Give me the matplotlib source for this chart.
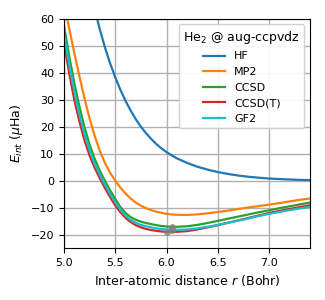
import matplotlib
matplotlib.use("Agg")
import matplotlib.pyplot as plt
import numpy as np

# inter-atomic distance grid (Bohr)
r = [5.0, 5.05, 5.1, 5.15, 5.2, 5.25, 5.3, 5.35, 5.4, 5.45, 5.5, 5.55, 5.6,
     5.65, 5.7, 5.75, 5.8, 5.85, 5.9, 5.95, 6.0, 6.05, 6.1, 6.2, 6.3, 6.4,
     6.5, 6.6, 6.7, 6.8, 6.9, 7.0, 7.1, 7.2, 7.3, 7.4]

# interaction energies (micro Hartree)
e_hf = [122, 110, 99, 89, 80, 71.5, 63.5, 56, 49.3, 43.5, 38.3, 33.7, 29.6,
        26.0, 22.8, 20.0, 17.6, 15.5, 13.6, 12.0, 10.6, 9.4, 8.3, 6.6, 5.2,
        4.1, 3.2, 2.5, 1.9, 1.45, 1.1, 0.8, 0.6, 0.45, 0.3, 0.2]
e_mp2 = [66, 56.5, 47.5, 38.7, 30.5, 23.0, 16.5, 11.0, 6.5, 2.9, 0.0, -2.6,
         -4.8, -6.6, -8.1, -9.3, -10.2, -10.9, -11.5, -11.9, -12.3, -12.5,
         -12.65, -12.7, -12.5, -12.1, -11.6, -11.1, -10.5, -9.9, -9.4, -8.9,
         -8.3, -7.7, -7.1, -6.6]
e_ccsd = [57.5, 46.3, 36.3, 27.5, 19.8, 13.3, 8.0, 3.6, -0.1, -3.6, -6.8,
          -9.8, -12.0, -13.5, -14.5, -15.2, -15.7, -16.1, -16.5, -16.8, -17.0,
          -17.1, -17.1, -16.9, -16.4, -15.7, -14.9, -14.1, -13.3, -12.5,
          -11.7, -11.0, -10.2, -9.5, -8.8, -8.1]
e_ccsdt = [51.0, 40.0, 30.0, 22.0, 14.9, 9.3, 4.7, 0.8, -2.8, -6.1, -9.2,
           -11.7, -13.8, -15.3, -16.5, -17.3, -17.9, -18.3, -18.6, -18.85,
           -18.95, -19.0, -18.95, -18.7, -18.1, -17.3, -16.5, -15.6, -14.7,
           -13.8, -12.9, -12.0, -11.2, -10.5, -9.8, -9.1]
e_gf2 = [54.5, 43.2, 33.2, 24.7, 17.3, 11.2, 6.2, 2.1, -1.5, -4.9, -8.0,
         -10.8, -13.0, -14.5, -15.6, -16.4, -16.9, -17.3, -17.7, -17.95,
         -18.1, -18.2, -18.2, -18.1, -17.7, -17.1, -16.4, -15.6, -14.8,
         -14.0, -13.1, -12.3, -11.6, -10.9, -10.3, -9.7]

# minima markers
min_r = [6.0, 6.05, 6.05]
min_e = [-18.95, -17.1, -18.2]

methods = ["HF", "MP2", "CCSD", "CCSD(T)", "GF2"]
energies = [e_hf, e_mp2, e_ccsd, e_ccsdt, e_gf2]
colors = ["tab:blue", "tab:orange", "tab:green", "tab:red", "tab:cyan"]

plt.rcParams['font.size'] = 8
fig = plt.figure(figsize=(3.25, 3.0), dpi=100)
ax = fig.add_axes([0.197, 0.173, 0.757, 0.764])

for name, e, c in zip(methods, energies, colors):
    ax.plot(r, e, color=c, lw=1.6, label=name)
ax.plot(min_r, min_e, 'o', color='grey', ms=4, alpha=0.7)

ax.set_xlim(5.0, 7.4)
ax.set_ylim(-25, 60)
ax.set_xticks([5.0, 5.5, 6.0, 6.5, 7.0])
ax.set_yticks([-20, -10, 0, 10, 20, 30, 40, 50, 60])
ax.grid(True, color='#b0b0b0', lw=1.0)
ax.set_xlabel("Inter-atomic distance $r$ (Bohr)", fontsize=9)
ax.set_ylabel("$E_{int}$ ($\\mu$Ha)", fontsize=9)
leg = ax.legend(title="He$_2$ @ aug-ccpvdz", loc='upper right', fontsize=8,
                title_fontsize=9, framealpha=0.9)

fig.savefig("out.png", dpi=100)
